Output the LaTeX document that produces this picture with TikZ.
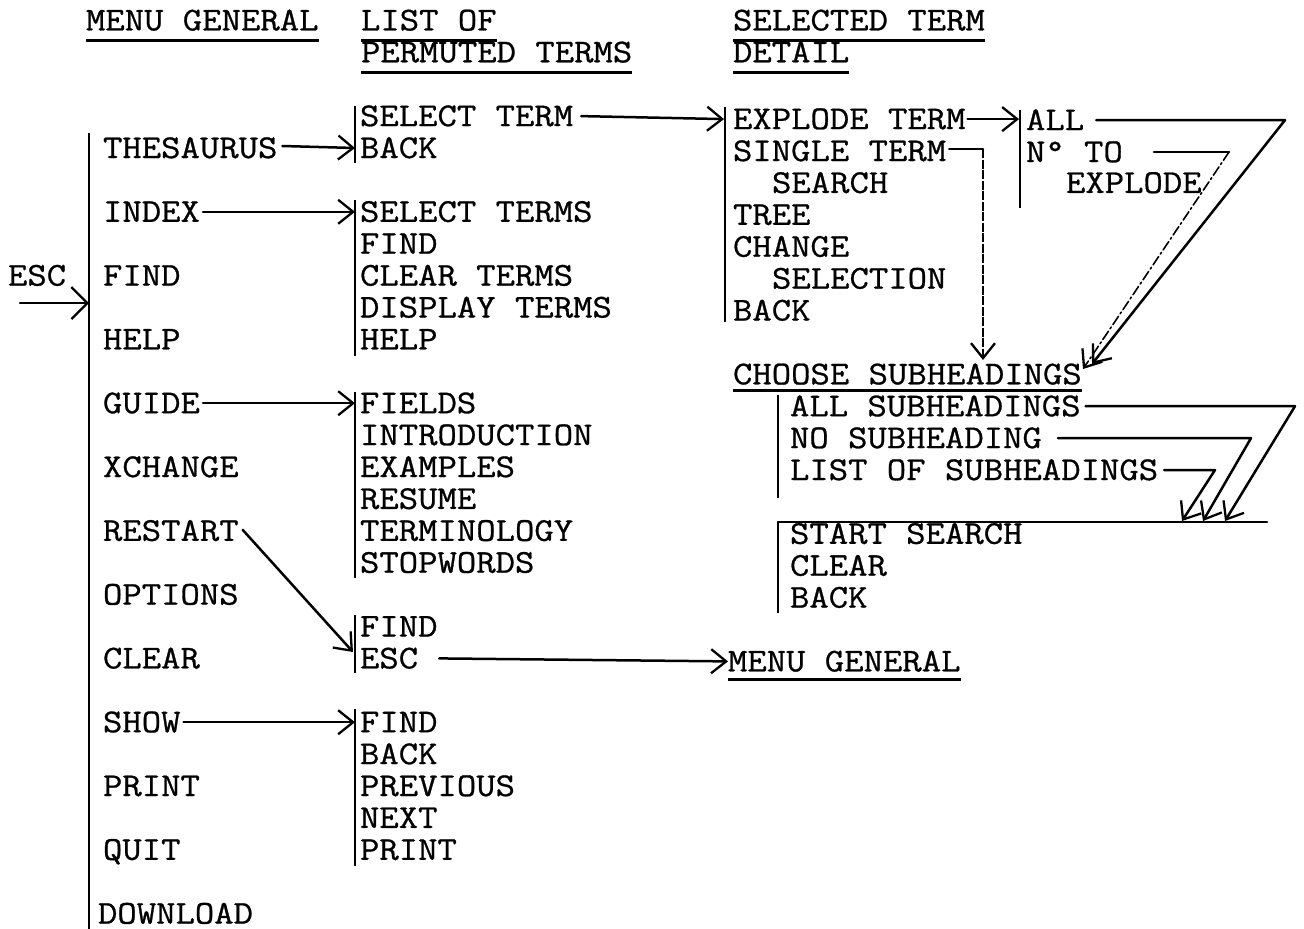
\documentclass[tikz,border=0pt]{standalone}
\usepackage{fontspec}
\newfontfamily\tw[FakeStretch=1.13,FakeBold=0.8]{Latin Modern Mono}
\usetikzlibrary{arrows.meta,calc}
\begin{document}
\begin{tikzpicture}[x=1pt,y=-1pt,
  lbl/.style={font=\tw\fontsize{33.3pt}{34pt}\selectfont, inner sep=0pt, outer sep=0pt, anchor=base west, text height=20pt, text depth=0pt},
  ln/.style={line width=2.5pt, line cap=round, line join=round},
  vbar/.style={line width=2.8pt},
  tip/.style={-{Straight Barb[length=15pt,width=24pt,line width=2.3pt]}},
  arr/.style={ln, tip},
  dd/.style={line width=1.6pt, line cap=round, dash pattern=on 10pt off 3pt on 2pt off 3pt},
  ds/.style={line width=1.6pt, dash pattern=on 9pt off 1.5pt},
  ul/.style={line width=2.5pt}]
\useasboundingbox (0,0) rectangle (1304,929);

% headers
\node[lbl] (h1) at (86,30.4) {MENU GENERAL};
\node[lbl] (h2a) at (361,30.4) {LIST OF};
\node[lbl] (h2b) at (361,62.3) {PERMUTED TERMS};
\node[lbl] (h3a) at (733,30.4) {SELECTED TERM};
\node[lbl] (h3b) at (733,62.3) {DETAIL};
\foreach \n in {h1,h2a,h2b,h3a,h3b}
  \draw[ul] ([yshift=-10pt]\n.base west) -- ([yshift=-10pt]\n.base east);

% main menu
\node[lbl] (esc) at (8,285.6) {ESC};
\node[lbl] (m1) at (103,158) {THESAURUS};
\node[lbl] (m2) at (103,221.8) {INDEX};
\node[lbl] (m3) at (103,285.6) {FIND};
\node[lbl] (m4) at (103,349.4) {HELP};
\node[lbl] (m5) at (103,413.2) {GUIDE};
\node[lbl] (m6) at (103,477) {XCHANGE};
\node[lbl] (m7) at (103,540.8) {RESTART};
\node[lbl] (m8) at (103,604.6) {OPTIONS};
\node[lbl] (m9) at (103,668.4) {CLEAR};
\node[lbl] (m10) at (103,732.2) {SHOW};
\node[lbl] (m11) at (103,796) {PRINT};
\node[lbl] (m12) at (103,859.8) {QUIT};
\node[lbl] (m13) at (98,923.6) {DOWNLOAD};
\draw[vbar] (89,133) -- (89,383);
\draw[vbar] (89,375) -- (89,929);

% column 2
\node[lbl] (a1) at (360,126.1) {SELECT TERM};
\node[lbl] (a2) at (360,158) {BACK};
\node[lbl] (b1) at (360,221.8) {SELECT TERMS};
\node[lbl] (b2) at (360,253.7) {FIND};
\node[lbl] (b3) at (360,285.6) {CLEAR TERMS};
\node[lbl] (b4) at (360,317.5) {DISPLAY TERMS};
\node[lbl] (b5) at (360,349.4) {HELP};
\node[lbl] (c1) at (360,413.2) {FIELDS};
\node[lbl] (c2) at (360,445.1) {INTRODUCTION};
\node[lbl] (c3) at (360,477) {EXAMPLES};
\node[lbl] (c4) at (360,508.9) {RESUME};
\node[lbl] (c5) at (360,540.8) {TERMINOLOGY};
\node[lbl] (c6) at (360,572.7) {STOPWORDS};
\node[lbl] (d1) at (360,636.5) {FIND};
\node[lbl] (d2) at (360,668.4) {ESC};
\node[lbl] (e1) at (360,732.2) {FIND};
\node[lbl] (e2) at (360,764.1) {BACK};
\node[lbl] (e3) at (360,796) {PREVIOUS};
\node[lbl] (e4) at (360,827.9) {NEXT};
\node[lbl] (e5) at (360,859.8) {PRINT};
\draw[vbar] (355,106) -- (355,163);
\draw[vbar] (355,200) -- (355,356);
\draw[vbar] (355,392) -- (355,578);
\draw[vbar] (355,615) -- (355,673);
\draw[vbar] (355,709) -- (355,866);

% column 3
\node[lbl] (s1) at (733,129.1) {EXPLODE TERM};
\node[lbl] (s2) at (733,161) {SINGLE TERM};
\node[lbl] (s3) at (772,192.9) {SEARCH};
\node[lbl] (s4) at (733,224.8) {TREE};
\node[lbl] (s5) at (733,256.7) {CHANGE};
\node[lbl] (s6) at (772,288.6) {SELECTION};
\node[lbl] (s7) at (733,320.5) {BACK};
\draw[vbar] (725,107) -- (725,322);
\node[lbl] (ch) at (733,384.3) {CHOOSE SUBHEADINGS};
\draw[ul] ([yshift=-6pt]ch.base west) -- ([yshift=-6pt]ch.base east);
\node[lbl] (u1) at (790,416.2) {ALL SUBHEADINGS};
\node[lbl] (u2) at (790,448.1) {NO SUBHEADING};
\node[lbl] (u3) at (790,480) {LIST OF SUBHEADINGS};
\draw[vbar] (778,395) -- (778,498);
\draw[ln] (778,522) -- (1267,522);
\node[lbl] (v1) at (790,543.8) {START SEARCH};
\node[lbl] (v2) at (790,575.7) {CLEAR};
\node[lbl] (v3) at (790,607.6) {BACK};
\draw[vbar] (778,522) -- (778,613);
\node[lbl] (mg) at (728,671.4) {MENU GENERAL};
\draw[ul] ([yshift=-8pt]mg.base west) -- ([yshift=-8pt]mg.base east);

% column 4
\node[lbl] (x1) at (1026,130.1) {ALL};
\node[lbl] (x2) at (1026,162) {N° TO};
\node[lbl] (x3) at (1066,192.9) {EXPLODE};
\draw[vbar] (1020,110) -- (1020,208);

% coordinates
\coordinate (escin) at (20,303);
\coordinate (escbar) at (89,303);
\coordinate (colB) at (355,0);
\coordinate (colC) at (724,0);
\coordinate (colD) at (1019,0);
\coordinate (rstip) at (353,652);
\coordinate (stx) at (983,0);
\coordinate (sttip) at (983,360);
\coordinate (cA) at (1285,0);
\coordinate (tipA) at (1092,364);
\coordinate (cN) at (1229,0);
\coordinate (tipN) at (1083,369);
\coordinate (cU1) at (1295,0);
\coordinate (tU1) at (1225,521);
\coordinate (cU2) at (1251,0);
\coordinate (tU2) at (1203,521);
\coordinate (cU3) at (1215,0);
\coordinate (tU3) at (1182,521);

% connectors
\draw[ln, -{Straight Barb[length=16pt,width=32pt,line width=2.3pt]}] (escin) -- (escbar);
\draw[arr] ([xshift=5pt,yshift=2pt]m1.east) -- (m1.east -| colB);
\draw[arr] ([xshift=3pt]m2.east) -- (m2.east -| colB);
\draw[arr] ([xshift=3pt]m5.east) -- (m5.east -| colB);
\draw[arr] ([xshift=3pt]m10.east) -- (m10.east -| colB);
\draw[arr] ([xshift=4pt,yshift=1pt]m7.east) -- (rstip);
\draw[arr] ([xshift=21pt]d2.east) -- (mg.west);
\draw[arr] ([xshift=8pt]a1.east) -- (s1.west -| colC);
\draw[arr] ([xshift=2pt]s1.east) -- (s1.east -| colD);
\draw[ln] ([xshift=3pt,yshift=2pt]s2.east) -- ([yshift=2pt]s2.east -| stx);
\draw[ds, tip] ([yshift=2pt]s2.east -| stx) -- (sttip);
\draw[arr] ([xshift=12pt]x1.east) -- (x1.east -| cA) -- (tipA);
\draw[ln] ([xshift=31pt]x2.east) -- (x2.east -| cN);
\draw[dd, tip] (x2.east -| cN) -- (tipN);
\draw[arr] ([xshift=5pt]u1.east) -- (u1.east -| cU1) -- (tU1);
\draw[arr] ([xshift=16pt]u2.east) -- (u2.east -| cU2) -- (tU2);
\draw[arr] ([xshift=6pt]u3.east) -- (u3.east -| cU3) -- (tU3);
\end{tikzpicture}
\end{document}
